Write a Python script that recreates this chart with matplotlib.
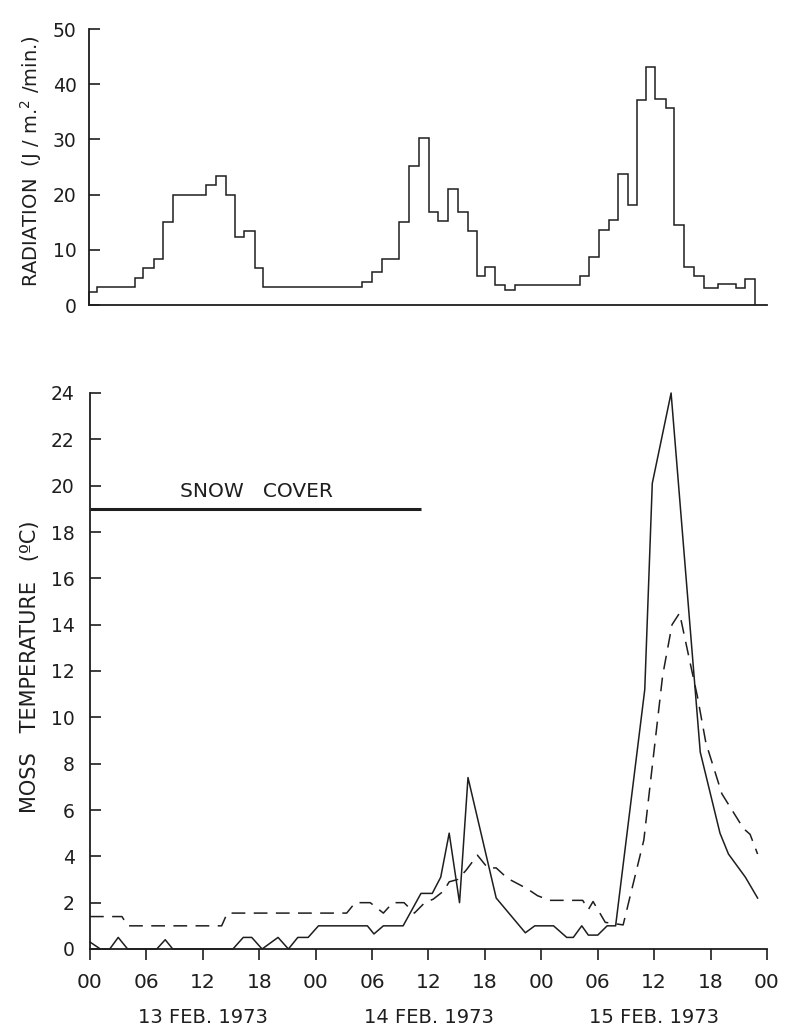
import matplotlib
matplotlib.use("Agg")
import matplotlib.pyplot as plt

# Time axis: hours counted from 00:00 on 13 Feb 1973
hour_ticks = list(range(0, 73, 6))
hour_labels = ["00", "06", "12", "18"] * 3 + ["00"]
day_centres = [12, 36, 60]
day_labels = ["13 FEB. 1973", "14 FEB. 1973", "15 FEB. 1973"]

# Global radiation (J / m^2 / min), stepped record: interval edges (h) and levels
rad_edges = [0, 0.8, 4.9, 5.7, 6.9, 7.9, 8.9, 12.4, 13.5, 14.6, 15.5, 16.5,
             17.6, 18.5, 29.0, 30.0, 31.1, 32.9, 34.0, 35.0, 36.1, 37.1, 38.1,
             39.2, 40.2, 41.2, 42.1, 43.1, 44.2, 45.2, 52.1, 53.1, 54.2, 55.2,
             56.2, 57.2, 58.2, 59.2, 60.1, 61.3, 62.1, 63.2, 64.3, 65.3, 66.8,
             68.7, 69.7, 70.7]
rad_values = [2.4, 3.3, 4.9, 6.7, 8.3, 15, 20, 21.7, 23.4, 20, 12.4, 13.4, 6.7,
              3.3,
              4.2, 6.0, 8.4, 15, 25.2, 30.2, 16.8, 15.2, 21, 16.8, 13.4, 5.3,
              6.9, 3.6, 2.7,
              3.6,
              5.3, 8.7, 13.6, 15.4, 23.7, 18.1, 37.1, 43.1, 37.3, 35.7, 14.5,
              6.9, 5.3, 3.1, 3.8, 3.1, 4.7]

# Moss temperature, solid trace
solid_hours = [0.0, 1.1, 2.1, 3.0, 4.0, 7.1, 8.0, 8.8, 15.2, 16.3, 17.2, 18.3,
               20.0, 21.1, 22.1, 23.2, 24.3, 29.5, 30.2, 31.2, 33.3, 35.2, 36.4,
               37.3, 38.2, 39.3, 40.2, 43.2, 46.3, 47.3, 49.3, 50.7, 51.4, 52.3,
               53.0, 54.0, 55.0, 55.9, 59.0, 59.8, 61.8, 64.9, 67.0, 67.9, 69.7,
               71.0]
solid_temp = [0.3, 0.0, 0.0, 0.5, 0.0, 0.0, 0.4, 0.0, 0.0, 0.5, 0.5, 0.0,
              0.5, 0.0, 0.5, 0.5, 1.0, 1.0, 0.65, 1.0, 1.0, 2.4, 2.4,
              3.1, 5.0, 2.0, 7.4, 2.2, 0.7, 1.0, 1.0, 0.5, 0.5, 1.0,
              0.6, 0.6, 1.0, 1.0, 11.2, 20.1, 24.0, 8.5, 5.0, 4.1, 3.1,
              2.2]

# Moss temperature, dashed trace
dashed_hours = [0.0, 3.4, 4.0, 14.0, 14.6, 27.3, 28.2, 29.8, 31.2, 32.2, 33.4,
                34.5, 35.6, 36.5, 37.6, 38.2, 39.1, 40.0, 41.2, 42.3, 43.2,
                44.4, 46.5, 47.6, 48.9, 52.4, 53.0, 53.5, 54.8, 56.7, 58.9,
                60.9, 61.9, 62.7, 63.8, 64.6, 65.5, 67.2, 69.5, 70.2, 71.0]
dashed_temp = [1.4, 1.4, 1.0, 1.0, 1.55, 1.55, 2.0, 2.0, 1.55, 2.0, 2.0,
               1.55, 2.0, 2.15, 2.5, 2.9, 3.0, 3.4, 4.05, 3.5, 3.5,
               3.05, 2.6, 2.3, 2.1, 2.1, 1.7, 2.05, 1.15, 1.04, 4.7,
               11.8, 14.0, 14.5, 12.4, 10.9, 8.9, 6.7, 5.2, 4.95, 4.1]

# Period under snow cover
snow_hours = [0, 35.2]
snow_level = [19, 19]

ink = "#1e1e1e"
plt.rcParams["font.family"] = ["DejaVu Sans"]

fig = plt.figure(figsize=(7.88, 10.28), dpi=100)
W, H = 788, 1028
ax_rad = fig.add_axes([89 / W, 1 - 305 / H, (767 - 89) / W, 276 / H])
ax_tmp = fig.add_axes([90 / W, 1 - 949 / H, (767 - 90) / W, 556 / H])

# ---- radiation panel ----
ax_rad.stairs(rad_values, rad_edges, baseline=0, color=ink, lw=1.1,
              clip_on=False)
ax_rad.set_xlim(0, 72)
ax_rad.set_ylim(0, 50)
ax_rad.set_xticks([])
ax_rad.set_yticks(range(0, 51, 10))
ax_rad.tick_params(axis="y", direction="in", length=8, width=1.2,
                   pad=9, labelsize=13.5, colors=ink)
for side in ("top", "right"):
    ax_rad.spines[side].set_visible(False)
for side in ("left", "bottom"):
    ax_rad.spines[side].set_linewidth(1.3)
    ax_rad.spines[side].set_color(ink)

fig.text(31 / W, 1 - 161 / H, "RADIATION  (J / m.$^{2}$ /min.)",
         rotation=90, ha="center", va="center", fontsize=14, color=ink)

# ---- temperature panel ----
ax_tmp.plot(solid_hours, solid_temp, color=ink, lw=1.1, clip_on=False)
ax_tmp.plot(dashed_hours, dashed_temp, color=ink, lw=1.1,
            linestyle=(0, (9, 5.5)), clip_on=False)
ax_tmp.plot(snow_hours, snow_level, color=ink, lw=2.2, solid_capstyle="butt")
ax_tmp.text(17.7, 19.75, "SNOW   COVER", ha="center", va="center",
            fontsize=14.5, color=ink)

ax_tmp.set_xlim(0, 72)
ax_tmp.set_ylim(0, 24)
ax_tmp.set_yticks(range(0, 25, 2))
ax_tmp.set_xticks(hour_ticks)
ax_tmp.set_xticklabels(hour_labels)
ax_tmp.tick_params(axis="y", direction="in", length=8, width=1.2,
                   pad=11, labelsize=13.5, colors=ink)
ax_tmp.tick_params(axis="x", direction="out", length=8, width=1.2,
                   pad=9, labelsize=14.5, colors=ink)
for side in ("top", "right"):
    ax_tmp.spines[side].set_visible(False)
for side in ("left", "bottom"):
    ax_tmp.spines[side].set_linewidth(1.3)
    ax_tmp.spines[side].set_color(ink)

xform = ax_tmp.get_xaxis_transform()
for xc, lab in zip(day_centres, day_labels):
    ax_tmp.text(xc, -0.124, lab, transform=xform, ha="center", va="center",
                fontsize=14, color=ink)

fig.text(30 / W, 1 - 667 / H, "MOSS   TEMPERATURE   (ºC)",
         rotation=90, ha="center", va="center", fontsize=15, color=ink)

fig.savefig("out.png", dpi=100, facecolor="white")
